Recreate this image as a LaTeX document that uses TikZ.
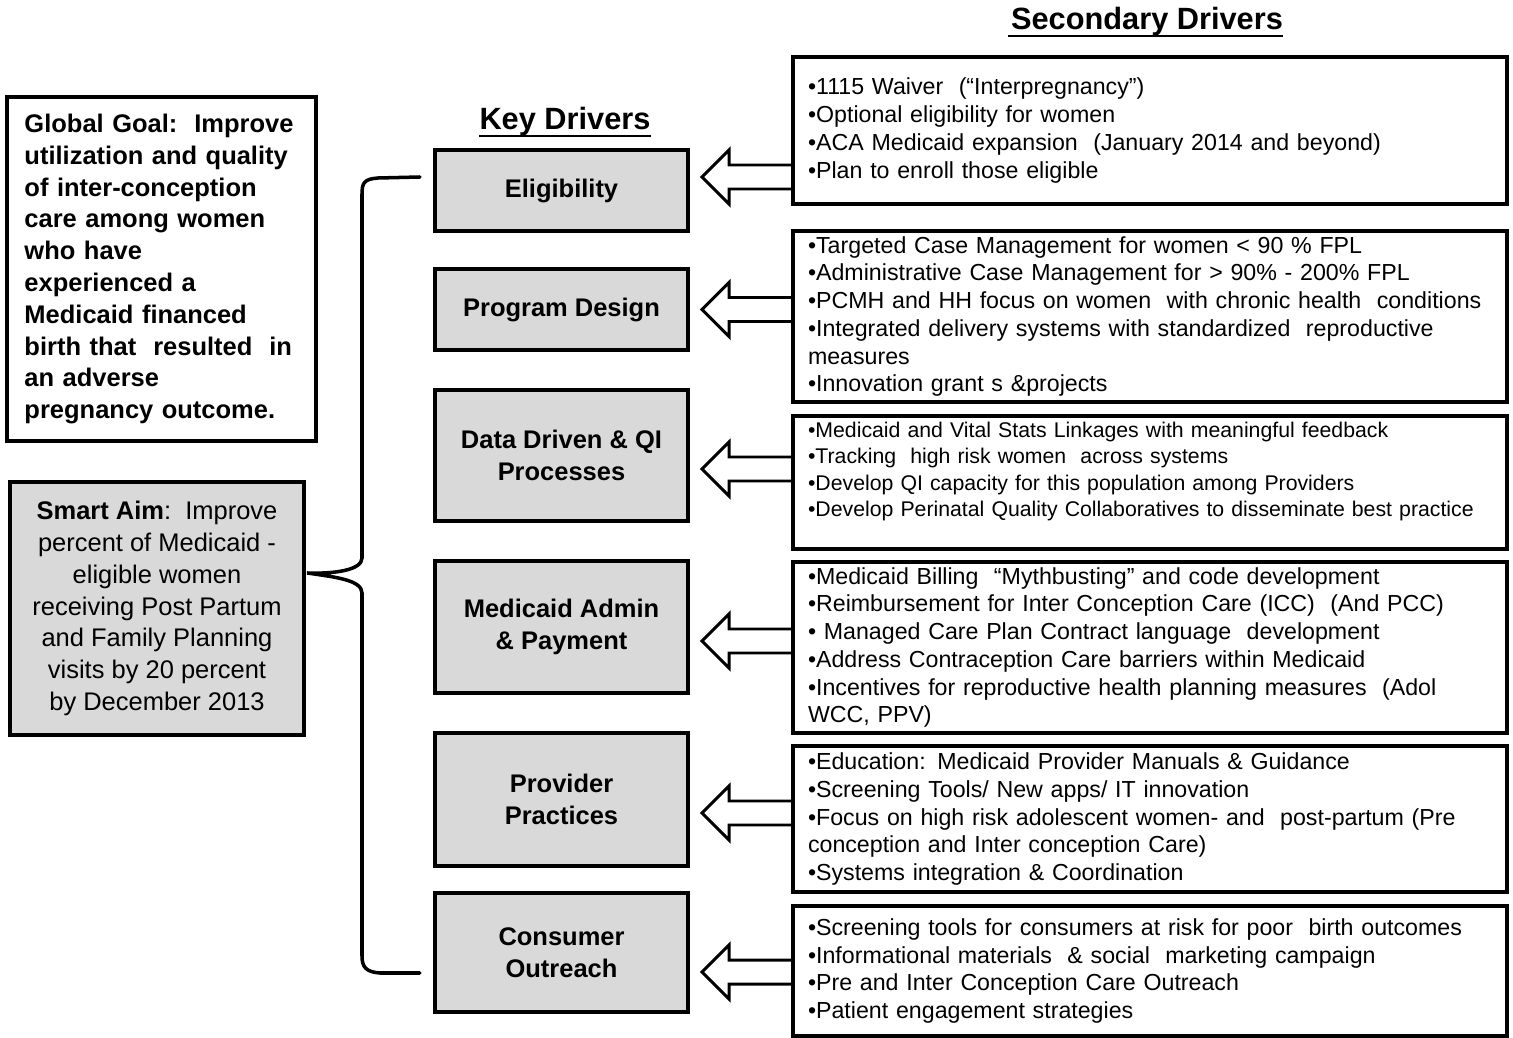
\documentclass[tikz,border=0pt]{standalone}
\usepackage{fontspec}
\setmainfont{Liberation Sans}
\usetikzlibrary{calc}
\definecolor{boxgray}{HTML}{D9D9D9}
\hyphenpenalty=10000

\tikzset{
  keybox/.style={draw, line width=2.3pt, fill=boxgray, minimum width=50.6mm, align=center, font=\fontsize{14.5}{18.1}\selectfont\bfseries},
  secbox/.style={draw, line width=2.3pt, fill=white, text width=136.8mm, inner xsep=3mm, inner ysep=0pt, align=left, font=\fontsize{13.2}{15.8}\selectfont},
  headline/.style={inner sep=0pt, font=\fontsize{17.5}{20}\selectfont\bfseries},
  hollow/.style={line width=1.7pt, line join=miter},
  brace/.style={line width=2pt, line cap=round},
}

\begin{document}
\begin{tikzpicture}[x=0.2mm, y=-0.2mm]
\useasboundingbox (0,0) rectangle (1513,1038);

\node[headline] (keyhead) at (565,122) {Key Drivers};
\node[headline] (sechead) at (1147,22) {Secondary Drivers};
\draw[line width=1.6pt] ($(keyhead.base west)+(0,6)$) -- ($(keyhead.base east)+(0,6)$);
\draw[line width=1.6pt] ($(sechead.base west)+(-3,6)$) -- ($(sechead.base east)+(0,6)$);

\node[draw, line width=2.3pt, minimum width=61.8mm, minimum height=68.8mm, text width=54.8mm, inner xsep=3.5mm, align=left, font=\fontsize{14.5}{18.1}\selectfont\bfseries] (goal) at (161.5,269) {Global Goal:\ \ Improve\\ utilization and quality\\ of inter-conception\\ care among women\\ who have\\ experienced a\\ Medicaid financed\\ birth that\ \ resulted\ \ in\\ an adverse\\ pregnancy outcome.};

\node[draw, line width=2.3pt, fill=boxgray, minimum width=58.8mm, minimum height=50.6mm, align=center, font=\fontsize{14.5}{18.1}\selectfont] (aim) at (157,608.5) {\textbf{Smart Aim}:\ \ Improve\\ percent of Medicaid -\\ eligible women\\ receiving Post Partum\\ and Family Planning\\ visits by 20 percent\\ by December 2013};

\node[keybox, minimum height=16.2mm] (elig) at (561.5,190.5) {Eligibility};
\node[keybox, minimum height=16.2mm] (design) at (561.5,309.5) {Program Design};
\node[keybox, minimum height=26.2mm] (data) at (561.5,455.5) {Data Driven \& QI\\ Processes};
\node[keybox, minimum height=26.4mm] (admin) at (561.5,627) {Medicaid Admin\\ \& Payment};
\node[keybox, minimum height=26.6mm] (provider) at (561.5,799.5) {Provider\\ Practices};
\node[keybox, minimum height=23.8mm] (outreach) at (561.5,952.5) {Consumer\\ Outreach};

\node[secbox, minimum height=29.4mm] (secelig) at (1150,130.5) {•1115 Waiver\ \ (“Interpregnancy”)\\ •Optional eligibility for women\\ •ACA Medicaid expansion\ \ (January 2014 and beyond)\\ •Plan to enroll those eligible};
\node[secbox, minimum height=34.2mm] (secdesign) at (1150,316.5) {•Targeted Case Management for women < 90 \% FPL\\ •Administrative Case Management for > 90\% - 200\% FPL\\ •PCMH and HH focus on women\ \ with chronic health\ \ conditions\\ •Integrated delivery systems with standardized\ \ reproductive\\ measures\\ •Innovation grant s \&projects};
\node[secbox, minimum height=26.6mm, font=\fontsize{12.1}{15}\selectfont] (secdata) at (1150,482.5) {•Medicaid and Vital Stats Linkages with meaningful feedback\\ •Tracking\ \ high risk women\ \ across systems\\ •Develop QI capacity for this population among Providers\\ •Develop Perinatal Quality Collaboratives to disseminate best practice\\ \mbox{}};
\node[secbox, minimum height=34.2mm] (secadmin) at (1150,647.5) {•Medicaid Billing\ \ “Mythbusting” and code development\\ •Reimbursement for Inter Conception Care (ICC)\ \ (And PCC)\\ • Managed Care Plan Contract language\ \ development\\ •Address Contraception Care barriers within Medicaid\\ •Incentives for reproductive health planning measures\ \ (Adol\\ WCC, PPV)};
\node[secbox, minimum height=29.2mm] (secprov) at (1150,819) {•Education: Medicaid Provider Manuals \& Guidance\\ •Screening Tools/ New apps/ IT innovation\\ •Focus on high risk adolescent women- and\ \ post-partum (Pre\\ conception and Inter conception Care)\\ •Systems integration \& Coordination};
\node[secbox, minimum height=26mm] (secout) at (1150,971) {•Screening tools for consumers at risk for poor\ \ birth outcomes\\ •Informational materials\ \ \& social\ \ marketing campaign\\ •Pre and Inter Conception Care Outreach\\ •Patient engagement strategies};

\foreach \k/\s/\dy in {elig/secelig/-13.5, design/secdesign/0, data/secdata/13.5, admin/secadmin/14, provider/secprov/13.5, outreach/secout/19.5} {
\coordinate (tip) at ($(\k.east)+(12,\dy)$);
\coordinate (up) at ($(tip)+(27,-12)$);
\coordinate (lo) at ($(tip)+(27,12)$);
\draw[hollow] (up -| \s.west) -- (up) -- ++(0,-15) -- (tip) -- ++(27,27) -- ++(0,-15) -- (lo -| \s.west);
}

\coordinate (btop) at ($(elig.west)+(-13,-13.5)$);
\coordinate (bbot) at ($(outreach.west)+(-13,20.5)$);
\coordinate (cusp) at ($(aim.north east)+(1,93)$);
\draw[brace] (btop) -- (378,178) .. controls (364,179) and (362,183) .. (362,194) -- (362,558) .. controls (362,570) and (335,574) .. (cusp) .. controls (335,577) and (362,580) .. (362,593) -- (362,956) .. controls (362,967) and (366,972) .. (380,973) -- (bbot);

\end{tikzpicture}
\end{document}
